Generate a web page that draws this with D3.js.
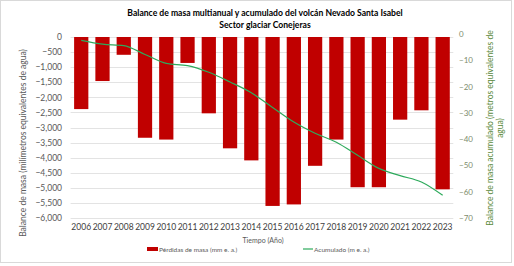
<!DOCTYPE html>
<html lang="es">
<head>
<meta charset="utf-8">
<title>Balance de masa</title>
<script src="https://cdn.jsdelivr.net/npm/d3@7"></script>
<style>
  body { margin: 0; background: #fff; }
  text { font-family: Lato, "Open Sans", sans-serif; }
</style>
</head>
<body>
<script>
// datos
var years = ['2006','2007','2008','2009','2010','2011','2012','2013','2014','2015','2016','2017','2018','2019','2020','2021','2022','2023'];
var perdidas = [-2390, -1460, -590, -3340, -3400, -860, -2530, -3690, -4090, -5600, -5550, -4270, -3400, -4980, -4980, -2740, -2430, -5050];
var acumulado = [-2.4, -3.85, -4.44, -7.78, -11.18, -12.04, -14.57, -18.26, -22.35, -27.95, -33.5, -37.77, -41.17, -46.15, -51.13, -53.87, -56.3, -61.35];
var leftTicks = d3.range(0, -6001, -500);
var rightTicks = [0, -10, -20, -30, -40, -50, -60, -70];

var w = 514, h = 266;
var svg = d3.select('body').append('svg').attr('width', w).attr('height', h);

svg.append('rect').attr('x', 0.5).attr('y', 0.5).attr('width', w - 3).attr('height', h - 4)
  .attr('fill', '#fff').attr('stroke', '#d9d9d9');

var x = d3.scaleBand().domain(years).range([70.6, 453.3]).paddingInner(0.33).paddingOuter(0.165);
var yL = d3.scaleLinear().domain([0, -6000]).range([37, 218]);
var yR = d3.scaleLinear().domain([0, -70]).range([34, 218]);

// lineas de cuadricula
svg.append('g').selectAll('line').data(leftTicks).enter().append('line')
  .attr('x1', 70.6).attr('x2', 453.3)
  .attr('y1', function(d) { return Math.round(yL(d)) + 0.5; })
  .attr('y2', function(d) { return Math.round(yL(d)) + 0.5; })
  .attr('stroke', '#e3e3e3').attr('stroke-width', 1);

// barras
svg.append('g').selectAll('rect').data(perdidas).enter().append('rect')
  .attr('x', function(d, i) { return x(years[i]); })
  .attr('width', x.bandwidth())
  .attr('y', yL(0))
  .attr('height', function(d) { return yL(d) - yL(0); })
  .attr('fill', '#c00000');

// linea acumulada
var line = d3.line()
  .x(function(d, i) { return x(years[i]) + x.bandwidth() / 2; })
  .y(function(d) { return yR(d); })
  .curve(d3.curveMonotoneX);
svg.append('path').datum(acumulado).attr('d', line)
  .attr('fill', 'none').attr('stroke', '#2eaa5c').attr('stroke-width', 1.2);

// ejes
var axL = d3.axisLeft(yL).tickValues(leftTicks).tickSize(0).tickPadding(8);
var gL = svg.append('g').attr('transform', 'translate(70,0)').call(axL);
gL.select('.domain').remove();
gL.selectAll('text').attr('font-size', 8.5).attr('fill', '#595959').style('font-family', 'Lato, sans-serif');

var axR = d3.axisRight(yR).tickValues(rightTicks).tickSize(0).tickPadding(6);
var gR = svg.append('g').attr('transform', 'translate(453,0)').call(axR);
gR.select('.domain').remove();
gR.selectAll('text').attr('font-size', 8).attr('fill', '#7d8c6c').style('font-family', 'Lato, sans-serif');

var axX = d3.axisBottom(x).tickSize(0).tickPadding(6);
var gX = svg.append('g').attr('transform', 'translate(0,218)').call(axX);
gX.select('.domain').remove();
gX.selectAll('text').attr('font-size', 8.5).attr('fill', '#404040').style('font-family', 'Lato, sans-serif');

// titulos
svg.append('text').attr('x', 265).attr('y', 16).attr('text-anchor', 'middle')
  .attr('font-size', 8.6).attr('font-weight', 'bold').attr('fill', '#000')
  .text('Balance de masa multianual y acumulado del volcán Nevado Santa Isabel');
svg.append('text').attr('x', 265).attr('y', 28).attr('text-anchor', 'middle')
  .attr('font-size', 8.6).attr('font-weight', 'bold').attr('fill', '#000')
  .text('Sector glaciar Conejeras');

svg.append('text').attr('x', 263).attr('y', 243).attr('text-anchor', 'middle')
  .attr('font-size', 7).attr('fill', '#595959').text('Tiempo (Año)');

svg.append('text').attr('transform', 'translate(26,143) rotate(-90)').attr('text-anchor', 'middle')
  .attr('font-size', 8.5).attr('fill', '#595959')
  .text('Balance de masa (milímetros equivalentes de agua)');

svg.append('text').attr('transform', 'translate(493,128) rotate(-90)').attr('text-anchor', 'middle')
  .attr('font-size', 8.5).attr('fill', '#5b8a3c')
  .text('Balance de masa acumulado (metros equivalentes de');
svg.append('text').attr('transform', 'translate(503,128) rotate(-90)').attr('text-anchor', 'middle')
  .attr('font-size', 8.5).attr('fill', '#5b8a3c')
  .text('agua)');

// leyenda
var leg = svg.append('g').attr('font-size', 6.5).attr('fill', '#595959');
leg.append('rect').attr('x', 147).attr('y', 247).attr('width', 11).attr('height', 4).attr('fill', '#c00000');
leg.append('text').attr('x', 159).attr('y', 251.5).text('Pérdidas de masa (mm e. a.)');
leg.append('line').attr('x1', 303).attr('x2', 313).attr('y1', 249).attr('y2', 249)
  .attr('stroke', '#2eaa5c').attr('stroke-width', 1.2);
leg.append('text').attr('x', 314).attr('y', 251.5).text('Acumulado (m e. a.)');
</script>
</body>
</html>
